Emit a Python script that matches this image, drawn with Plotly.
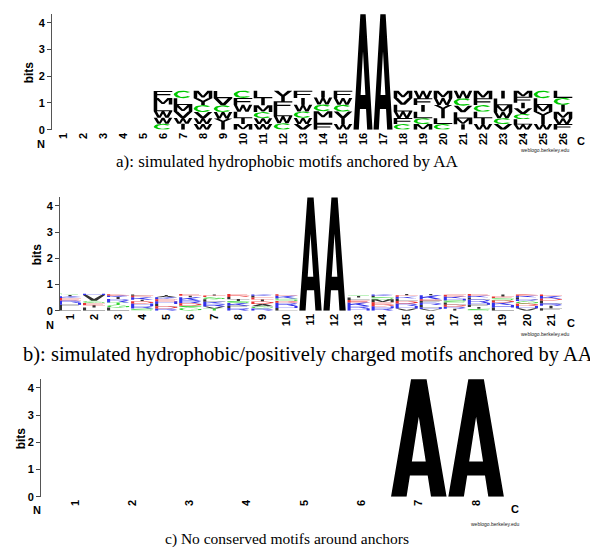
import math
import plotly.graph_objects as go

# ------------------------------------------------------------------ data
# panel a: simulated hydrophobic motifs anchored by AA (26 positions)
a_ticks = list(range(1, 27))
a_pos = [6, 7, 8, 9, 10, 11, 12, 13, 14, 15, 16, 17, 18, 19, 20, 21, 22, 23, 24, 25, 26]
a_letters = ["FMLWWC", "CLMVWI", "MYCVWW", "LVCWYI", "CFWLIM", "LIMCWW", "YFLWC",
             "FIWCWV", "IWCMLF", "FWCVIW", "A", "A", "MVLWFC", "WFILCM", "MWYILC",
             "WCVLMI", "MFCLIW", "ILMWCV", "MFIVCLW", "CLMYIW", "LCIMWF"]
a_heights = [
    [0.26, 0.25, 0.25, 0.24, 0.23, 0.22],
    [0.28, 0.26, 0.24, 0.24, 0.22, 0.22],
    [0.28, 0.26, 0.26, 0.23, 0.22, 0.21],
    [0.27, 0.27, 0.25, 0.24, 0.22, 0.20],
    [0.27, 0.26, 0.26, 0.24, 0.22, 0.21],
    [0.28, 0.27, 0.25, 0.23, 0.22, 0.21],
    [0.40, 0.29, 0.27, 0.26, 0.24],
    [0.27, 0.26, 0.25, 0.24, 0.23, 0.21],
    [0.26, 0.26, 0.25, 0.24, 0.23, 0.22],
    [0.27, 0.26, 0.25, 0.24, 0.23, 0.21],
    [4.32],
    [4.32],
    [0.27, 0.26, 0.25, 0.24, 0.23, 0.21],
    [0.28, 0.26, 0.25, 0.24, 0.22, 0.21],
    [0.27, 0.27, 0.25, 0.24, 0.22, 0.21],
    [0.29, 0.27, 0.25, 0.23, 0.22, 0.20],
    [0.28, 0.26, 0.25, 0.24, 0.22, 0.21],
    [0.29, 0.26, 0.25, 0.23, 0.22, 0.21],
    [0.23, 0.22, 0.21, 0.21, 0.20, 0.20, 0.19],
    [0.28, 0.26, 0.25, 0.24, 0.22, 0.21],
    [0.27, 0.26, 0.26, 0.24, 0.22, 0.21],
]

# panel b: simulated hydrophobic/positively charged motifs anchored by AA (21 positions)
b_ticks = list(range(1, 22))
b_pos = [1, 2, 3, 4, 5, 6, 7, 8, 9, 10, 11, 12, 13, 14, 15, 16, 17, 18, 19, 20, 21]
b_letters = ["SIKERHFL", "HVGEIL", "EKIRTGL", "LEKIDHRS", "IAKEHLDR", "EIKRDSG",
             "IEGLKRVT", "EDLISKFR", "KLEIDAGR", "EKSDRHL", "A", "A", "SILEKRH",
             "KLSMEDHR", "IEKLDRHV", "IKEFRLHV", "EKHSLDRI", "EKLRHFIS", "IESDKHL",
             "EKLRGDHV", "EKDLRIF"]
b_heights = [
    [0.05, 0.05, 0.07, 0.09, 0.09, 0.07, 0.09, 0.14],
    [0.05, 0.22, 0.09, 0.08, 0.09, 0.12],
    [0.05, 0.06, 0.07, 0.14, 0.08, 0.11, 0.12],
    [0.05, 0.06, 0.09, 0.06, 0.09, 0.09, 0.10, 0.08],
    [0.04, 0.05, 0.07, 0.08, 0.10, 0.09, 0.09, 0.08],
    [0.07, 0.06, 0.12, 0.11, 0.09, 0.06, 0.13],
    [0.04, 0.06, 0.08, 0.10, 0.08, 0.10, 0.08, 0.08],
    [0.07, 0.05, 0.08, 0.07, 0.08, 0.10, 0.09, 0.10],
    [0.05, 0.07, 0.07, 0.08, 0.09, 0.09, 0.09, 0.08],
    [0.06, 0.10, 0.10, 0.07, 0.12, 0.08, 0.10],
    [4.32],
    [4.32],
    [0.04, 0.06, 0.09, 0.10, 0.13, 0.10, 0.08],
    [0.05, 0.06, 0.07, 0.12, 0.08, 0.07, 0.07, 0.10],
    [0.05, 0.06, 0.07, 0.09, 0.10, 0.09, 0.10, 0.08],
    [0.05, 0.15, 0.06, 0.08, 0.08, 0.09, 0.07, 0.06],
    [0.07, 0.08, 0.07, 0.08, 0.08, 0.08, 0.08, 0.07],
    [0.07, 0.07, 0.07, 0.14, 0.06, 0.09, 0.07, 0.07],
    [0.08, 0.06, 0.08, 0.09, 0.09, 0.10, 0.12],
    [0.05, 0.06, 0.07, 0.07, 0.10, 0.09, 0.09, 0.09],
    [0.06, 0.10, 0.07, 0.12, 0.08, 0.10, 0.09],
]

# panel c: no conserved motifs around anchors (8 positions)
c_ticks = list(range(1, 9))
c_pos = [7, 8]
c_letters = ["A", "A"]
c_heights = [[4.32], [4.32]]

y_ticks = [0, 1, 2, 3, 4]
captions = ["a): simulated hydrophobic motifs anchored by AA",
            "b): simulated hydrophobic/positively charged motifs anchored by AA",
            "c) No conserved motifs around anchors"]

# ------------------------------------------------------------------ style
W, H = 598, 555
YMAX = 4.34
SANS = "Liberation Sans, Arial, sans-serif"
SERIF = "Liberation Serif, Times New Roman, serif"

COLORS = {}
for ch in "AVLIPWFMY":
    COLORS[ch] = "#000000"
for ch in "CGST":
    COLORS[ch] = "#00C800"
for ch in "KRH":
    COLORS[ch] = "#0000E6"
for ch in "DE":
    COLORS[ch] = "#E60000"
for ch in "NQ":
    COLORS[ch] = "#A000A0"


def arc(cx, cy, rx, ry, a0, a1, n=18):
    return [(cx + rx * math.cos(math.radians(a0 + (a1 - a0) * i / n)),
             cy + ry * math.sin(math.radians(a0 + (a1 - a0) * i / n))) for i in range(n + 1)]


def make_glyphs(s, b):
    """Blocky sans-serif glyph outlines in a unit box; s = stem width, b = bar height."""
    m0, m1 = 0.5 - b / 2, 0.5 + b / 2
    ir = 0.5 - s
    g = {}
    g['A'] = ([[(0, 0), (0.36, 1), (0.64, 1), (1, 0), (0.72, 0), (0.66, 0.18), (0.34, 0.18), (0.28, 0)]],
              [[(0.375, 0.30), (0.625, 0.30), (0.5, 0.68)]])
    g['C'] = ([arc(0.5, 0.5, 0.5, 0.5, 40, 320) + arc(0.5, 0.5, ir, 0.5 - b, 320, 40)], [])
    g['G'] = ([arc(0.5, 0.5, 0.5, 0.5, 40, 350) + arc(0.5, 0.5, ir, 0.5 - b, 350, 40),
               [(0.55, m0 - 0.05), (1, m0 - 0.05), (1, m1 - 0.05), (0.55, m1 - 0.05)],
               [(1 - s, 0.1), (1, 0.2), (1, m1 - 0.05), (1 - s, m1 - 0.05)]], [])
    g['D'] = ([[(0, 0), (0, 1), (0.6, 1), (0.85, 0.9), (1, 0.65), (1, 0.35), (0.85, 0.1), (0.6, 0)]],
              [[(s, b), (s, 1 - b), (0.55, 1 - b), (0.74, 0.7), (1 - s, 0.5), (0.74, 0.3), (0.55, b)]])
    g['E'] = ([[(0, 0), (0, 1), (1, 1), (1, 1 - b), (s, 1 - b), (s, m1), (0.9, m1), (0.9, m0),
                (s, m0), (s, b), (1, b), (1, 0)]], [])
    g['F'] = ([[(0, 0), (0, 1), (1, 1), (1, 1 - b), (s, 1 - b), (s, m1 - 0.03), (0.9, m1 - 0.03),
                (0.9, m0 - 0.03), (s, m0 - 0.03), (s, 0)]], [])
    g['H'] = ([[(0, 0), (0, 1), (s, 1), (s, m1), (1 - s, m1), (1 - s, 1), (1, 1), (1, 0),
                (1 - s, 0), (1 - s, m0), (s, m0), (s, 0)]], [])
    g['I'] = ([[(0.5 - s / 2, 0), (0.5 - s / 2, 1), (0.5 + s / 2, 1), (0.5 + s / 2, 0)]], [])
    g['K'] = ([[(0, 0), (0, 1), (s, 1), (s, 0.55), (0.72, 1), (1, 1), (0.54, 0.56), (1, 0),
                (0.72, 0), (0.36, 0.44), (s, 0.32), (s, 0)]], [])
    g['L'] = ([[(0, 0), (0, 1), (s, 1), (s, b), (1, b), (1, 0)]], [])
    g['M'] = ([[(0, 0), (0, 1), (0.26, 1), (0.5, 0.32), (0.74, 1), (1, 1), (1, 0), (1 - s, 0),
                (1 - s, 0.68), (0.57, 0.08), (0.43, 0.08), (s, 0.68), (s, 0)]], [])
    g['R'] = ([[(0, 0), (0, 1), (0.7, 1), (0.9, 0.9), (1, 0.72), (0.9, 0.52), (0.72, 0.45), (1, 0),
                (0.76, 0), (0.5, 0.42), (s, 0.42), (s, 0)]],
              [[(s, 0.42 + b), (s, 1 - b), (0.68, 1 - b), (1 - s, 0.71), (0.68, 0.42 + b)]])
    g['S'] = ([[(1, 1), (0.15, 1), (0, 0.85), (0, 0.55), (0.15, m0), (1 - s, m0), (1 - s, b), (0, b),
                (0, 0), (0.85, 0), (1, 0.15), (1, 0.45), (0.85, m1), (s, m1), (s, 1 - b), (1, 1 - b)]], [])
    g['T'] = ([[(0, 1), (1, 1), (1, 1 - b), (0.5 + s / 2, 1 - b), (0.5 + s / 2, 0), (0.5 - s / 2, 0),
                (0.5 - s / 2, 1 - b), (0, 1 - b)]], [])
    g['V'] = ([[(0, 1), (s + 0.04, 1), (0.5, 0.28), (0.96 - s, 1), (1, 1), (0.62, 0), (0.38, 0)]], [])
    g['W'] = ([[(0, 1), (0.17, 1), (0.3, 0.3), (0.43, 1), (0.57, 1), (0.7, 0.3), (0.83, 1), (1, 1),
                (0.8, 0), (0.63, 0), (0.5, 0.62), (0.37, 0), (0.2, 0)]], [])
    g['Y'] = ([[(0, 1), (0.25, 1), (0.5, 0.62), (0.75, 1), (1, 1), (0.5 + s / 2, 0.45), (0.5 + s / 2, 0),
                (0.5 - s / 2, 0), (0.5 - s / 2, 0.45)]], [])
    return g


GLYPHS_BOLD = make_glyphs(0.19, 0.16)
GLYPHS_THIN = make_glyphs(0.14, 0.11)

# panel pixel geometry: zero line, px per bit, y-axis x, x of position 1, px per position
PANELS = [
    dict(zero=123, ppb=27.0, axis=44, p1=55, step=20.0, right=592, gw=0.93, op=1.0, glyphs=GLYPHS_BOLD),
    dict(zero=306, ppb=26.5, axis=52, p1=62, step=24.05, right=592, gw=0.92, op=0.8, glyphs=GLYPHS_THIN),
    dict(zero=494, ppb=27.5, axis=33, p1=67, step=57.3, right=592, gw=0.97, op=1.0, glyphs=GLYPHS_BOLD),
]


def fx(x):
    return x / W


def fy(y):
    return 1 - y / H


fig = go.Figure()


def add_logo(idx, positions, letters, heights):
    P = PANELS[idx]
    xa = "x" if idx == 0 else "x%d" % (idx + 1)
    ya = "y" if idx == 0 else "y%d" % (idx + 1)
    w = P["gw"]
    groups = {}
    hx, hy = [], []
    for p, lets, hs in zip(positions, letters, heights):
        y0 = 0.0
        big = len(lets) == 1
        ww = 0.95 if big and idx == 0 else (0.93 if big and idx == 1 else w)
        gset = GLYPHS_BOLD if big else P["glyphs"]
        for L, h in zip(reversed(lets), reversed(hs)):
            polys, holes = gset[L]
            key = (COLORS[L], 1.0 if big else P["op"])
            xs, ys = groups.setdefault(key, ([], []))
            for poly in polys:
                for gx, gy in poly:
                    xs.append(p - ww / 2 + gx * ww)
                    ys.append(y0 + gy * h)
                xs.append(None)
                ys.append(None)
            for poly in holes:
                for gx, gy in poly:
                    hx.append(p - ww / 2 + gx * ww)
                    hy.append(y0 + gy * h)
                hx.append(None)
                hy.append(None)
            y0 += h
    for (col, op), (xs, ys) in groups.items():
        fig.add_trace(go.Scatter(x=xs, y=ys, mode="lines", fill="toself", fillcolor=col,
                                 opacity=op, line=dict(width=0, color=col), xaxis=xa, yaxis=ya,
                                 hoverinfo="skip", showlegend=False))
    if hx:
        fig.add_trace(go.Scatter(x=hx, y=hy, mode="lines", fill="toself", fillcolor="#FFFFFF",
                                 line=dict(width=0, color="#FFFFFF"), xaxis=xa, yaxis=ya,
                                 hoverinfo="skip", showlegend=False))


add_logo(0, a_pos, a_letters, a_heights)
add_logo(1, b_pos, b_letters, b_heights)
add_logo(2, c_pos, c_letters, c_heights)

layout = dict(width=W, height=H, margin=dict(l=0, r=0, t=0, b=0),
              paper_bgcolor="white", plot_bgcolor="white", showlegend=False)

ticks_list = [a_ticks, b_ticks, c_ticks]
for i, P in enumerate(PANELS):
    sfx = "" if i == 0 else str(i + 1)
    lo = 1 + (P["axis"] - P["p1"]) / P["step"]
    hi = 1 + (P["right"] - P["p1"]) / P["step"]
    top_px = P["zero"] - YMAX * P["ppb"]
    layout["xaxis" + sfx] = dict(
        domain=[fx(P["axis"]), fx(P["right"])], range=[lo, hi], anchor="y" + sfx,
        tickvals=ticks_list[i], ticktext=[str(t) for t in ticks_list[i]], tickangle=-90,
        tickfont=dict(family=SANS, size=11, color="black", weight="bold"),
        showgrid=False, zeroline=False, showline=False, ticks="", fixedrange=True)
    layout["yaxis" + sfx] = dict(
        domain=[fy(P["zero"]), fy(top_px)], range=[0, YMAX], anchor="x" + sfx,
        tickvals=y_ticks, ticktext=[str(t) for t in y_ticks],
        tickfont=dict(family=SANS, size=11, color="black", weight="bold"),
        ticks="outside", ticklen=4, tickwidth=1, tickcolor="#444",
        showline=True, linecolor="#555", linewidth=1,
        showgrid=False, zeroline=False, fixedrange=True)

fig.update_layout(**layout)

ann = []


def text(x, y, s, size, family=SANS, bold=True, angle=0, color="black", xanchor="center"):
    ann.append(dict(x=fx(x), y=fy(y), xref="paper", yref="paper", text=s, showarrow=False,
                    xanchor=xanchor, yanchor="middle", textangle=angle,
                    font=dict(family=family, size=size, color=color,
                              weight="bold" if bold else "normal")))


# bits labels
text(21, 65, "bits", 12, angle=-90)
text(29, 249, "bits", 12, angle=-90)
text(13, 435, "bits", 12, angle=-90)
# N / C
text(33, 137, "N", 11)
text(573, 134, "C", 11)
text(42, 320, "N", 11)
text(563, 318, "C", 11)
text(29, 507, "N", 11)
text(507, 506, "C", 11)
# weblogo credit
text(537, 144, "weblogo.berkeley.edu", 5, bold=False, color="#222")
text(537, 330, "weblogo.berkeley.edu", 5, bold=False, color="#222")
text(487, 522, "weblogo.berkeley.edu", 5, bold=False, color="#222")
# captions
text(279, 155, captions[0], 17, family=SERIF, bold=False)
text(300, 350, captions[1], 20.5, family=SERIF, bold=False)
text(279, 537, captions[2], 15.5, family=SERIF, bold=False)

fig.update_layout(annotations=ann)
fig.write_html("out.html")
